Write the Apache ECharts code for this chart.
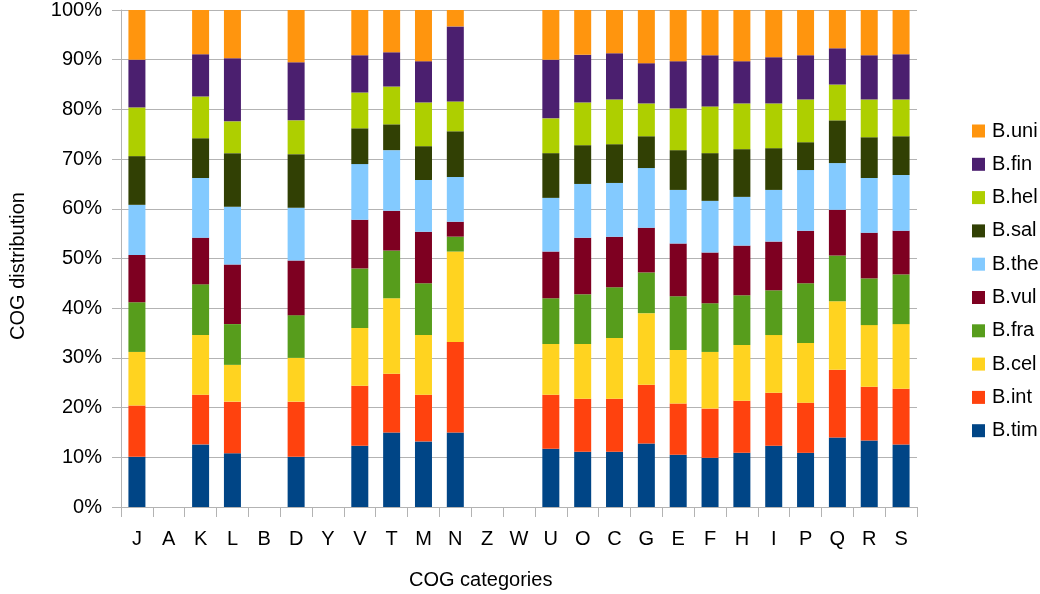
<!DOCTYPE html>
<html>
<head>
<meta charset="utf-8">
<style>
  html, body { margin: 0; padding: 0; background: #fff; }
  #chart { width: 1040px; height: 594px; }
</style>
<script src="https://cdn.jsdelivr.net/npm/echarts@6/dist/echarts.min.js"></script>
</head>
<body>
<div id="chart"></div>
<script>
// COG categories (empty ones have no bars)
const categories = ['J', 'A', 'K', 'L', 'B', 'D', 'Y', 'V', 'T', 'M', 'N', 'Z', 'W', 'U', 'O', 'C', 'G', 'E', 'F', 'H', 'I', 'P', 'Q', 'R', 'S'];

// percentage per species, bottom to top
const tim = [10.1, null, 12.6, 10.8, null, 10.1, null, 12.3, 15.0, 13.2, 15.0, null, null, 11.7, 11.1, 11.1, 12.8, 10.5, 9.9, 10.9, 12.3, 10.9, 14.0, 13.4, 12.6];
const int = [10.3, null, 10.0, 10.4, null, 11.1, null, 12.1, 11.8, 9.4, 18.2, null, null, 10.9, 10.7, 10.7, 11.8, 10.3, 9.9, 10.5, 10.7, 10.1, 13.6, 10.8, 11.2];
const cel = [10.8, null, 12.0, 7.4, null, 8.8, null, 11.6, 15.2, 12.0, 18.2, null, null, 10.2, 11.0, 12.2, 14.4, 10.8, 11.4, 11.2, 11.6, 12.0, 13.8, 12.4, 13.0];
const fra = [10.0, null, 10.2, 8.2, null, 8.6, null, 12.0, 9.6, 10.4, 3.0, null, null, 9.2, 10.0, 10.2, 8.2, 10.8, 9.8, 10.0, 9.0, 12.0, 9.2, 9.4, 10.0];
const vul = [9.5, null, 9.4, 12.0, null, 11.0, null, 9.8, 8.0, 10.4, 3.0, null, null, 9.4, 11.4, 10.2, 9.0, 10.6, 10.2, 10.0, 9.8, 10.6, 9.2, 9.2, 8.8];
const the = [10.1, null, 12.0, 11.6, null, 10.6, null, 11.2, 12.2, 10.4, 9.0, null, null, 10.8, 10.8, 10.8, 12.0, 10.8, 10.4, 9.8, 10.4, 12.2, 9.4, 11.0, 11.2];
const sal = [9.8, null, 8.0, 10.8, null, 10.8, null, 7.2, 5.2, 6.8, 9.2, null, null, 9.0, 7.8, 7.8, 6.4, 8.0, 9.6, 9.6, 8.4, 5.6, 8.6, 8.2, 7.8];
const hel = [9.8, null, 8.4, 6.4, null, 6.8, null, 7.2, 7.6, 8.8, 6.0, null, null, 7.0, 8.6, 9.0, 6.6, 8.4, 9.4, 9.2, 9.0, 8.6, 7.2, 7.6, 7.4];
const fin = [9.6, null, 8.5, 12.7, null, 11.7, null, 7.5, 6.9, 8.3, 15.1, null, null, 11.8, 9.6, 9.3, 8.1, 9.5, 10.3, 8.5, 9.3, 8.9, 7.3, 8.9, 9.1];
const uni = [10.0, null, 8.9, 9.7, null, 10.5, null, 9.1, 8.5, 10.3, 3.3, null, null, 10.0, 9.0, 8.7, 10.7, 10.3, 9.1, 10.3, 9.5, 9.1, 7.7, 9.1, 8.9];

const seriesNames = ['B.tim', 'B.int', 'B.cel', 'B.fra', 'B.vul', 'B.the', 'B.sal', 'B.hel', 'B.fin', 'B.uni'];
const seriesData = [tim, int, cel, fra, vul, the, sal, hel, fin, uni];
const colors = ['#004586', '#ff420e', '#ffd320', '#579d1c', '#7e0021', '#83caff', '#314004', '#aecf00', '#4b1f6f', '#ff950e'];

const FONT = '"Liberation Sans", Arial, sans-serif';
const GRID_COLOR = '#b3b3b3';

const chart = echarts.init(document.getElementById('chart'));

const option = {
    animation: false,
    color: colors,
    textStyle: { fontFamily: FONT },
    grid: { left: 121, right: 123, top: 7, bottom: 87 },
    legend: {
        orient: 'vertical',
        left: 967,
        top: 116,
        itemWidth: 13,
        itemHeight: 13,
        itemGap: 13.3,
        icon: 'rect',
        data: seriesNames.slice().reverse(),
        textStyle: { fontSize: 20, color: '#000', fontFamily: FONT, padding: [0, 0, 0, 2] }
    },
    xAxis: {
        type: 'category',
        data: categories,
        axisLine: { lineStyle: { color: GRID_COLOR } },
        axisTick: { show: true, length: 10, lineStyle: { color: GRID_COLOR } },
        axisLabel: { fontSize: 20, color: '#000', margin: 22, interval: 0 }
    },
    yAxis: {
        type: 'value',
        min: 0,
        max: 100,
        interval: 10,
        axisLine: { show: true, lineStyle: { color: GRID_COLOR } },
        axisTick: { show: true, length: 9, lineStyle: { color: GRID_COLOR } },
        axisLabel: { fontSize: 20, color: '#000', margin: 19, formatter: '{value}%' },
        splitLine: { lineStyle: { color: GRID_COLOR } }
    },
    graphic: [
        {
            type: 'text',
            left: 409,
            top: 570,
            style: { text: 'COG categories', fontSize: 20, fill: '#000', fontFamily: FONT }
        },
        {
            type: 'text',
            x: 18,
            y: 266,
            rotation: Math.PI / 2,
            style: { text: 'COG distribution', fontSize: 20, fill: '#000', fontFamily: FONT, align: 'center', verticalAlign: 'middle' }
        }
    ],
    series: seriesNames.map(function(name, i) {
        return {
            name: name,
            type: 'bar',
            stack: 'total',
            barWidth: 17,
            data: seriesData[i]
        };
    })
};

chart.setOption(option);
</script>
</body>
</html>
